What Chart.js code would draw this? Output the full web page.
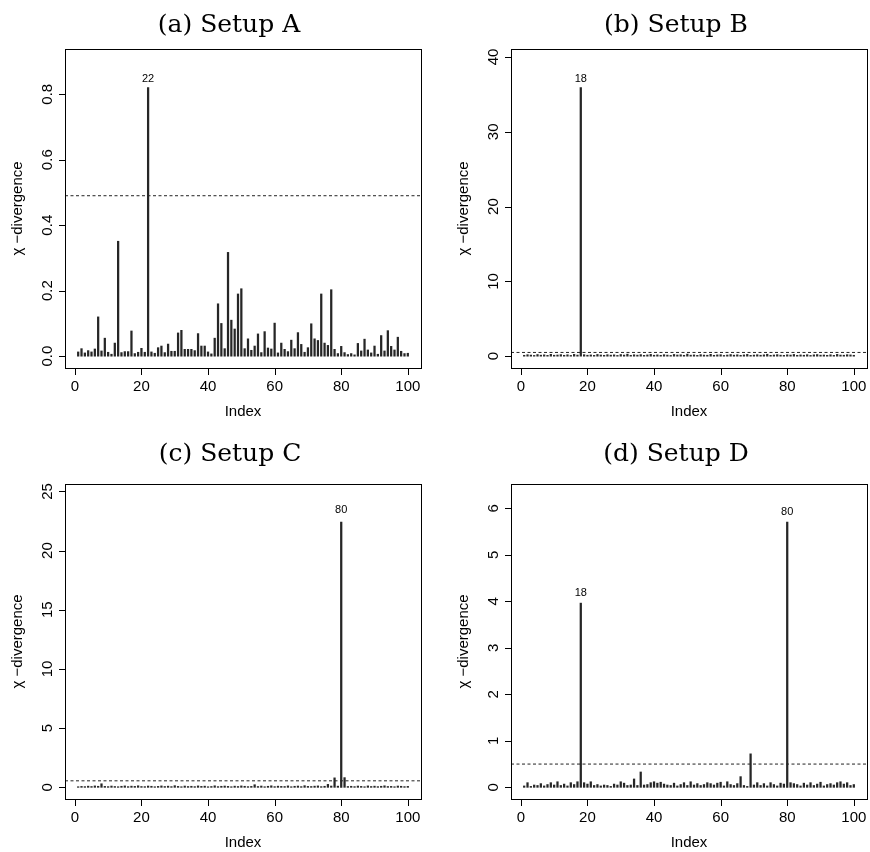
<!DOCTYPE html>
<html>
<head>
<meta charset="utf-8">
<script src="https://cdn.jsdelivr.net/npm/chart.js@4.4.1/dist/chart.umd.min.js"></script>
<style>
  html, body { margin: 0; padding: 0; background: #fff; }
  #wrap { position: relative; width: 870px; height: 852px; }
  canvas { position: absolute; }
</style>
</head>
<body>
<div id="wrap">
  <canvas id="chartA"></canvas>
  <canvas id="chartB"></canvas>
  <canvas id="chartC"></canvas>
  <canvas id="chartD"></canvas>
</div>
<script>
// Datos de las cuatro configuraciones (índices 1..100)
const index = Array.from({ length: 100 }, (_, i) => i + 1);

const setupA = [
  0.013, 0.023, 0.010, 0.017, 0.013, 0.022, 0.120, 0.016, 0.055, 0.012,
  0.006, 0.040, 0.351, 0.011, 0.014, 0.014, 0.077, 0.008, 0.012, 0.024,
  0.012, 0.820, 0.013, 0.009, 0.026, 0.031, 0.011, 0.037, 0.015, 0.015,
  0.071, 0.079, 0.021, 0.021, 0.021, 0.017, 0.069, 0.031, 0.031, 0.013,
  0.007, 0.055, 0.160, 0.100, 0.023, 0.317, 0.110, 0.083, 0.190, 0.206,
  0.023, 0.053, 0.018, 0.031, 0.068, 0.011, 0.075, 0.025, 0.022, 0.101,
  0.010, 0.040, 0.021, 0.014, 0.049, 0.023, 0.072, 0.036, 0.012, 0.026,
  0.099, 0.053, 0.048, 0.190, 0.040, 0.033, 0.203, 0.021, 0.008, 0.030,
  0.011, 0.005, 0.008, 0.004, 0.039, 0.016, 0.052, 0.019, 0.010, 0.031,
  0.006, 0.063, 0.016, 0.078, 0.030, 0.019, 0.058, 0.015, 0.008, 0.009
];

const setupB = [
  0.12, 0.20, 0.15, 0.10, 0.22, 0.14, 0.18, 0.11, 0.25, 0.13,
  0.16, 0.21, 0.12, 0.19, 0.10, 0.24, 0.15, 35.9, 0.20, 0.13,
  0.17, 0.11, 0.23, 0.16, 0.12, 0.20, 0.14, 0.18, 0.10, 0.22,
  0.15, 0.27, 0.12, 0.19, 0.14, 0.21, 0.11, 0.17, 0.24, 0.13,
  0.18, 0.12, 0.20, 0.15, 0.10, 0.23, 0.16, 0.19, 0.12, 0.28,
  0.14, 0.17, 0.11, 0.21, 0.15, 0.13, 0.25, 0.12, 0.18, 0.20,
  0.10, 0.16, 0.22, 0.14, 0.19, 0.12, 0.17, 0.24, 0.11, 0.15,
  0.20, 0.13, 0.18, 0.26, 0.12, 0.16, 0.21, 0.14, 0.11, 0.19,
  0.15, 0.23, 0.12, 0.17, 0.13, 0.20, 0.10, 0.18, 0.22, 0.14,
  0.16, 0.12, 0.19, 0.11, 0.24, 0.15, 0.13, 0.20, 0.17, 0.12
];

const setupC = [
  0.05, 0.08, 0.06, 0.10, 0.07, 0.12, 0.09, 0.30, 0.08, 0.06,
  0.11, 0.07, 0.05, 0.09, 0.12, 0.06, 0.10, 0.08, 0.13, 0.07,
  0.06, 0.11, 0.09, 0.05, 0.08, 0.12, 0.07, 0.10, 0.06, 0.14,
  0.08, 0.05, 0.11, 0.07, 0.09, 0.06, 0.12, 0.08, 0.10, 0.05,
  0.07, 0.13, 0.06, 0.09, 0.11, 0.08, 0.05, 0.10, 0.07, 0.12,
  0.09, 0.06, 0.08, 0.22, 0.07, 0.11, 0.05, 0.09, 0.13, 0.06,
  0.10, 0.08, 0.07, 0.12, 0.05, 0.09, 0.11, 0.06, 0.14, 0.08,
  0.07, 0.10, 0.12, 0.06, 0.09, 0.25, 0.11, 0.80, 0.10, 22.4,
  0.82, 0.07, 0.09, 0.06, 0.11, 0.08, 0.05, 0.12, 0.07, 0.10,
  0.06, 0.09, 0.13, 0.07, 0.08, 0.05, 0.11, 0.09, 0.06, 0.08
];

const setupD = [
  0.03, 0.10, 0.02, 0.05, 0.04, 0.08, 0.03, 0.06, 0.10, 0.05,
  0.12, 0.04, 0.07, 0.03, 0.10, 0.06, 0.12, 3.96, 0.10, 0.07,
  0.12, 0.04, 0.06, 0.03, 0.05, 0.04, 0.02, 0.07, 0.05, 0.12,
  0.09, 0.04, 0.05, 0.18, 0.04, 0.33, 0.05, 0.06, 0.10, 0.12,
  0.09, 0.11, 0.07, 0.05, 0.04, 0.09, 0.03, 0.06, 0.10, 0.04,
  0.12, 0.05, 0.08, 0.04, 0.06, 0.10, 0.08, 0.05, 0.09, 0.11,
  0.03, 0.12, 0.06, 0.04, 0.08, 0.23, 0.04, 0.02, 0.72, 0.05,
  0.10, 0.04, 0.08, 0.03, 0.10, 0.06, 0.03, 0.09, 0.07, 5.70,
  0.10, 0.08, 0.06, 0.03, 0.09, 0.05, 0.10, 0.04, 0.07, 0.11,
  0.03, 0.06, 0.08, 0.05, 0.10, 0.12, 0.07, 0.10, 0.04, 0.06
];

// Umbrales (línea discontinua) y puntos etiquetados
const thresholds = [0.49, 0.5, 0.55, 0.5];
const labeledA = [22];
const labeledB = [18];
const labeledC = [80];
const labeledD = [18, 80];

// Etiquetas de los ejes
const titles = ['(a) Setup A', '(b) Setup B', '(c) Setup C', '(d) Setup D'];
const xTicks = [0, 20, 40, 60, 80, 100];
const yTicksA = [0, 0.2, 0.4, 0.6, 0.8];
const yTickLabelsA = ['0.0', '0.2', '0.4', '0.6', '0.8'];
const yTicksB = [0, 10, 20, 30, 40];
const yTicksC = [0, 5, 10, 15, 20, 25];
const yTicksD = [0, 1, 2, 3, 4, 5, 6];
const xTitle = 'Index';
const yTitle = 'χ −divergence';

const SANS = '"Liberation Sans", Arial, Helvetica, sans-serif';

// Plugin para dibujar los ejes al estilo de R
const rStyle = {
  id: 'rStyle',
  afterDraw(chart, args, o) {
    const { ctx, chartArea: a, scales: { x, y } } = chart;
    ctx.save();
    ctx.strokeStyle = '#000';
    ctx.fillStyle = '#000';
    ctx.lineWidth = 1;

    // caja
    ctx.strokeRect(a.left + 0.5, a.top + 0.5, a.right - a.left, a.bottom - a.top);

    // marcas de los ejes
    ctx.beginPath();
    xTicks.forEach(v => {
      const px = Math.round(x.getPixelForValue(v)) + 0.5;
      ctx.moveTo(px, a.bottom + 0.5);
      ctx.lineTo(px, a.bottom + 7);
    });
    o.yTicks.forEach(v => {
      const py = Math.round(y.getPixelForValue(v)) + 0.5;
      ctx.moveTo(a.left + 0.5, py);
      ctx.lineTo(a.left - 6, py);
    });
    ctx.stroke();

    // etiquetas del eje x
    ctx.font = '15px ' + SANS;
    ctx.textAlign = 'center';
    ctx.textBaseline = 'alphabetic';
    xTicks.forEach(v => {
      ctx.fillText(String(v), x.getPixelForValue(v), a.bottom + 23);
    });
    ctx.fillText(xTitle, (a.left + a.right) / 2, a.bottom + 48);

    // etiquetas del eje y (rotadas)
    o.yTicks.forEach((v, i) => {
      ctx.save();
      ctx.translate(a.left - 13, y.getPixelForValue(v));
      ctx.rotate(-Math.PI / 2);
      ctx.fillText(o.yLabels ? o.yLabels[i] : String(v), 0, 0);
      ctx.restore();
    });
    ctx.save();
    ctx.translate(a.left - 43, (a.top + a.bottom) / 2);
    ctx.rotate(-Math.PI / 2);
    ctx.fillText(yTitle, 0, 0);
    ctx.restore();

    // etiquetas de los picos
    ctx.font = '11px ' + SANS;
    o.labeled.forEach(idx => {
      const v = o.values[idx - 1];
      ctx.fillText(String(idx), x.getPixelForValue(idx), y.getPixelForValue(v) - o.labelGap);
    });

    // título
    ctx.font = '25px "DejaVu Serif", "Liberation Serif", serif';
    ctx.fillText(o.title, o.titleX, o.titleY);
    ctx.restore();
  }
};

function makePanel(id, pos, values, threshold, labeled, yTicks, yLabels, title, labelGap) {
  const canvas = document.getElementById(id);
  canvas.width = pos.w;
  canvas.height = pos.h;
  canvas.style.left = pos.x + 'px';
  canvas.style.top = pos.y + 'px';

  const M = 1.1 * Math.max(...values);
  const xMin = 1 - 0.04 * 99;
  const xMax = 100 + 0.04 * 99;

  return new Chart(canvas, {
    type: 'bar',
    data: {
      datasets: [
        {
          data: index.map((i, k) => ({ x: i, y: values[k] })),
          backgroundColor: '#262626',
          borderWidth: 0,
          barThickness: 1.6,
        },
        {
          type: 'line',
          data: [{ x: xMin, y: threshold }, { x: xMax, y: threshold }],
          borderColor: '#222',
          borderWidth: 1,
          borderDash: [3, 2.5],
          pointRadius: 0,
          fill: false,
        },
      ],
    },
    options: {
      responsive: false,
      animation: false,
      events: [],
      layout: {
        padding: { left: pos.box[0] - pos.x, top: pos.box[1] - pos.y, right: pos.x + pos.w - pos.box[2], bottom: pos.y + pos.h - pos.box[3] },
      },
      plugins: {
        legend: { display: false },
        tooltip: { enabled: false },
        rStyle: { yTicks, yLabels, labeled, values, title, labelGap, titleX: pos.titleX - pos.x, titleY: pos.titleY - pos.y },
      },
      scales: {
        x: { type: 'linear', display: false, min: xMin, max: xMax, offset: false, grid: { offset: false } },
        y: { type: 'linear', display: false, min: -0.04 * M, max: 1.04 * M },
      },
    },
    plugins: [rStyle],
  });
}

makePanel('chartA', { x: 0, y: 0, w: 435, h: 426, box: [65, 49, 421, 368], titleX: 229, titleY: 32 },
  setupA, thresholds[0], labeledA, yTicksA, yTickLabelsA, titles[0], 6);
makePanel('chartB', { x: 435, y: 0, w: 435, h: 426, box: [511, 49, 867, 368], titleX: 676, titleY: 32 },
  setupB, thresholds[1], labeledB, yTicksB, null, titles[1], 6);
makePanel('chartC', { x: 0, y: 426, w: 435, h: 426, box: [65, 484, 421, 799], titleX: 230, titleY: 461 },
  setupC, thresholds[2], labeledC, yTicksC, null, titles[2], 9);
makePanel('chartD', { x: 435, y: 426, w: 435, h: 426, box: [511, 484, 867, 799], titleX: 676, titleY: 461 },
  setupD, thresholds[3], labeledD, yTicksD, null, titles[3], 7);
</script>
</body>
</html>
